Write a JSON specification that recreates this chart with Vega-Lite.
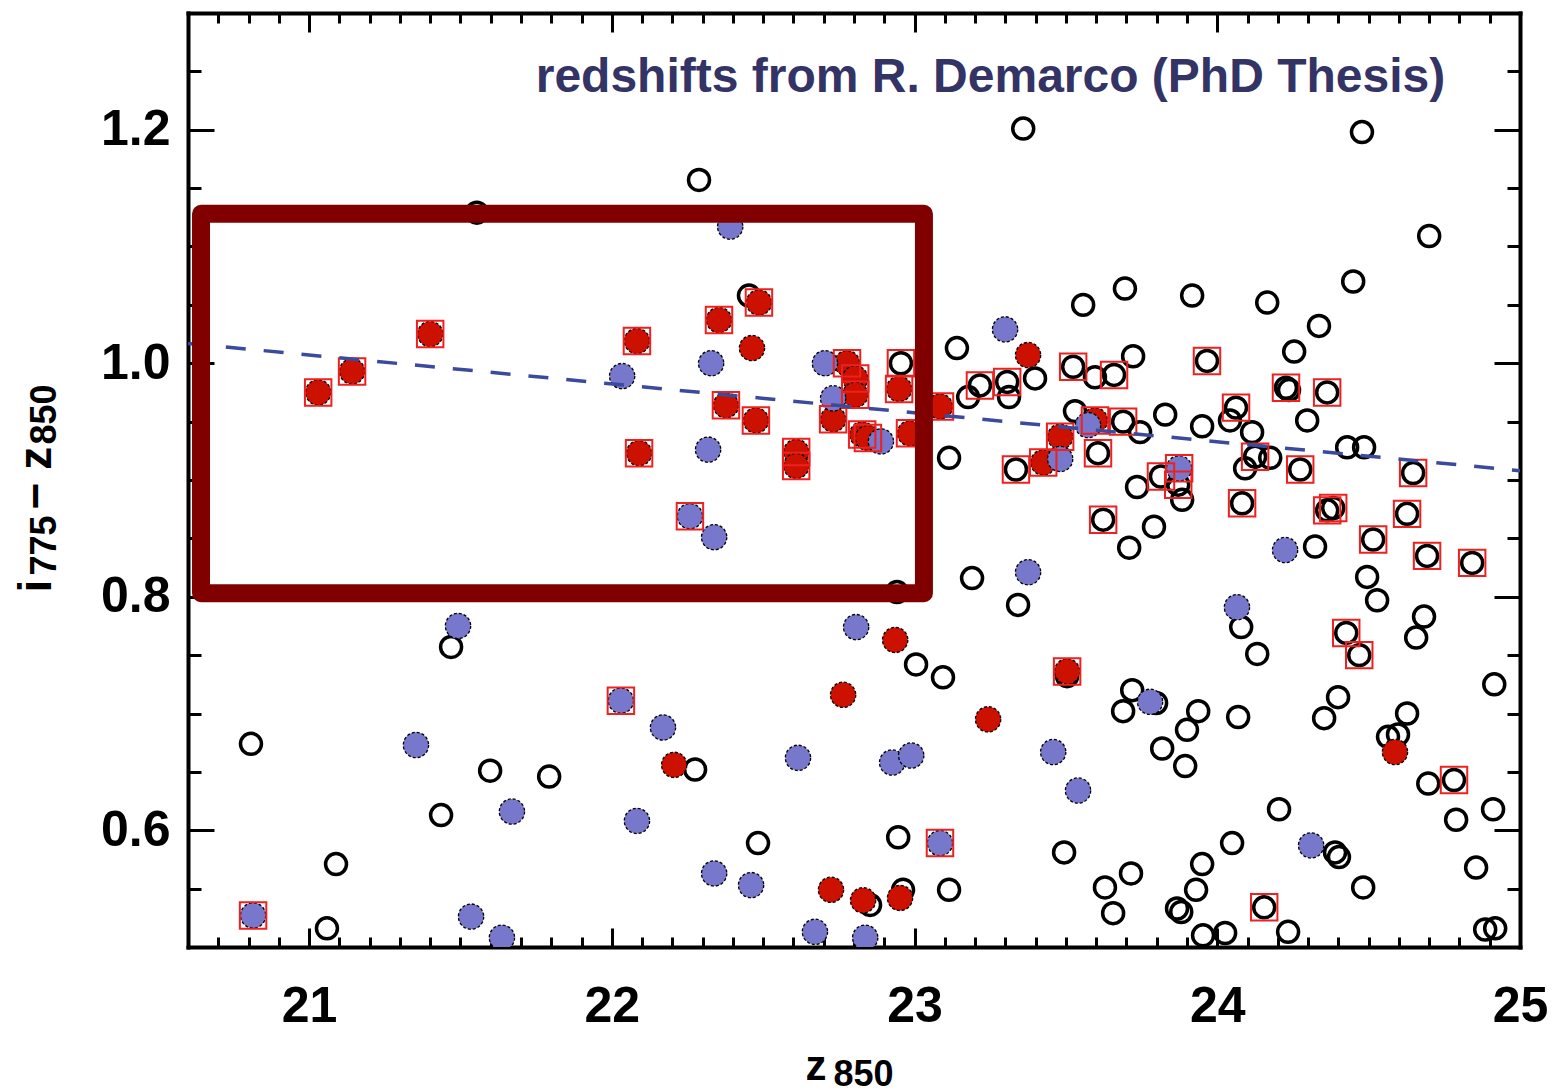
{
  "$schema": "https://vega.github.io/schema/vega-lite/v6.json",
  "width": 1332,
  "height": 934,
  "autosize": {"type": "none"},
  "padding": {"left": 188, "top": 13, "right": 32, "bottom": 145},
  "background": "white",
  "config": {
    "view": {"stroke": null},
    "axis": {
      "grid": false,
      "tickColor": "black",
      "tickWidth": 3,
      "domainColor": "black",
      "domainWidth": 4,
      "domainCap": "square",
      "labelColor": "black",
      "labelFont": "Liberation Sans",
      "labelFontWeight": "bold",
      "labelFontSize": 50,
      "labelFlush": false,
      "labelOverlap": false,
      "titleColor": "black",
      "titleFont": "Liberation Sans",
      "titleFontWeight": "bold",
      "zindex": 2
    }
  },
  "datasets": {
    "pts": [
      {"z": 21.554, "c": 1.129, "t": "open", "sq": 0},
      {"z": 22.288, "c": 1.157, "t": "open", "sq": 0},
      {"z": 23.359, "c": 1.201, "t": "open", "sq": 0},
      {"z": 24.478, "c": 1.198, "t": "open", "sq": 0},
      {"z": 22.453, "c": 1.058, "t": "open", "sq": 0},
      {"z": 23.14, "c": 1.013, "t": "open", "sq": 0},
      {"z": 23.398, "c": 0.987, "t": "open", "sq": 0},
      {"z": 23.177, "c": 0.971, "t": "open", "sq": 0},
      {"z": 23.312, "c": 0.971, "t": "open", "sq": 0},
      {"z": 23.114, "c": 0.919, "t": "open", "sq": 0},
      {"z": 23.53, "c": 0.959, "t": "open", "sq": 0},
      {"z": 23.557, "c": 1.05, "t": "open", "sq": 0},
      {"z": 23.695, "c": 1.064, "t": "open", "sq": 0},
      {"z": 23.917, "c": 1.058, "t": "open", "sq": 0},
      {"z": 24.165, "c": 1.052, "t": "open", "sq": 0},
      {"z": 24.336, "c": 1.032, "t": "open", "sq": 0},
      {"z": 24.254, "c": 1.01, "t": "open", "sq": 0},
      {"z": 23.722, "c": 1.006, "t": "open", "sq": 0},
      {"z": 24.449, "c": 1.07, "t": "open", "sq": 0},
      {"z": 24.7, "c": 1.109, "t": "open", "sq": 0},
      {"z": 23.596, "c": 0.988, "t": "open", "sq": 0},
      {"z": 24.237, "c": 0.977, "t": "open", "sq": 0},
      {"z": 23.828, "c": 0.956, "t": "open", "sq": 0},
      {"z": 24.042, "c": 0.951, "t": "open", "sq": 0},
      {"z": 23.745, "c": 0.941, "t": "open", "sq": 0},
      {"z": 23.95, "c": 0.946, "t": "open", "sq": 0},
      {"z": 24.115, "c": 0.941, "t": "open", "sq": 0},
      {"z": 24.297, "c": 0.951, "t": "open", "sq": 0},
      {"z": 24.429, "c": 0.928, "t": "open", "sq": 0},
      {"z": 24.485, "c": 0.928, "t": "open", "sq": 0},
      {"z": 24.175, "c": 0.919, "t": "open", "sq": 0},
      {"z": 24.092, "c": 0.91, "t": "open", "sq": 0},
      {"z": 23.735, "c": 0.894, "t": "open", "sq": 0},
      {"z": 23.884, "c": 0.883, "t": "open", "sq": 0},
      {"z": 23.791, "c": 0.86, "t": "open", "sq": 0},
      {"z": 23.709, "c": 0.842, "t": "open", "sq": 0},
      {"z": 24.323, "c": 0.843, "t": "open", "sq": 0},
      {"z": 24.495, "c": 0.817, "t": "open", "sq": 0},
      {"z": 24.528, "c": 0.797, "t": "open", "sq": 0},
      {"z": 24.683, "c": 0.783, "t": "open", "sq": 0},
      {"z": 24.657, "c": 0.765, "t": "open", "sq": 0},
      {"z": 24.079, "c": 0.774, "t": "open", "sq": 0},
      {"z": 24.132, "c": 0.751, "t": "open", "sq": 0},
      {"z": 24.915, "c": 0.725, "t": "open", "sq": 0},
      {"z": 23.719, "c": 0.72, "t": "open", "sq": 0},
      {"z": 23.689, "c": 0.702, "t": "open", "sq": 0},
      {"z": 23.937, "c": 0.702, "t": "open", "sq": 0},
      {"z": 23.9, "c": 0.686, "t": "open", "sq": 0},
      {"z": 24.069, "c": 0.697, "t": "open", "sq": 0},
      {"z": 24.399, "c": 0.714, "t": "open", "sq": 0},
      {"z": 24.353, "c": 0.696, "t": "open", "sq": 0},
      {"z": 24.627, "c": 0.7, "t": "open", "sq": 0},
      {"z": 24.564, "c": 0.68, "t": "open", "sq": 0},
      {"z": 24.597, "c": 0.682, "t": "open", "sq": 0},
      {"z": 23.818, "c": 0.67, "t": "open", "sq": 0},
      {"z": 23.894, "c": 0.655, "t": "open", "sq": 0},
      {"z": 24.697, "c": 0.64, "t": "open", "sq": 0},
      {"z": 24.789, "c": 0.609, "t": "open", "sq": 0},
      {"z": 24.911, "c": 0.618, "t": "open", "sq": 0},
      {"z": 24.204, "c": 0.618, "t": "open", "sq": 0},
      {"z": 24.049, "c": 0.589, "t": "open", "sq": 0},
      {"z": 24.389, "c": 0.581, "t": "open", "sq": 0},
      {"z": 24.402, "c": 0.577, "t": "open", "sq": 0},
      {"z": 24.855, "c": 0.568, "t": "open", "sq": 0},
      {"z": 24.482, "c": 0.551, "t": "open", "sq": 0},
      {"z": 23.715, "c": 0.563, "t": "open", "sq": 0},
      {"z": 23.629, "c": 0.551, "t": "open", "sq": 0},
      {"z": 23.656, "c": 0.529, "t": "open", "sq": 0},
      {"z": 23.95, "c": 0.571, "t": "open", "sq": 0},
      {"z": 23.93, "c": 0.549, "t": "open", "sq": 0},
      {"z": 23.867, "c": 0.533, "t": "open", "sq": 0},
      {"z": 23.881, "c": 0.53, "t": "open", "sq": 0},
      {"z": 24.234, "c": 0.513, "t": "open", "sq": 0},
      {"z": 23.953, "c": 0.51, "t": "open", "sq": 0},
      {"z": 24.026, "c": 0.512, "t": "open", "sq": 0},
      {"z": 24.885, "c": 0.515, "t": "open", "sq": 0},
      {"z": 24.918, "c": 0.516, "t": "open", "sq": 0},
      {"z": 23.494, "c": 0.581, "t": "open", "sq": 0},
      {"z": 22.942, "c": 0.804, "t": "open", "sq": 0},
      {"z": 23.19, "c": 0.816, "t": "open", "sq": 0},
      {"z": 23.342, "c": 0.793, "t": "open", "sq": 0},
      {"z": 23.005, "c": 0.742, "t": "open", "sq": 0},
      {"z": 23.094, "c": 0.731, "t": "open", "sq": 0},
      {"z": 22.275, "c": 0.652, "t": "open", "sq": 0},
      {"z": 22.483, "c": 0.589, "t": "open", "sq": 0},
      {"z": 22.946, "c": 0.594, "t": "open", "sq": 0},
      {"z": 22.853, "c": 0.536, "t": "open", "sq": 0},
      {"z": 22.962, "c": 0.549, "t": "open", "sq": 0},
      {"z": 23.114, "c": 0.549, "t": "open", "sq": 0},
      {"z": 21.469, "c": 0.757, "t": "open", "sq": 0},
      {"z": 20.808, "c": 0.674, "t": "open", "sq": 0},
      {"z": 21.598, "c": 0.651, "t": "open", "sq": 0},
      {"z": 21.793, "c": 0.646, "t": "open", "sq": 0},
      {"z": 21.436, "c": 0.613, "t": "open", "sq": 0},
      {"z": 21.089, "c": 0.571, "t": "open", "sq": 0},
      {"z": 21.059, "c": 0.516, "t": "open", "sq": 0},
      {"z": 23.504, "c": 0.732, "t": "open", "sq": 0},
      {"z": 23.798, "c": 0.709, "t": "open", "sq": 0},
      {"z": 22.955, "c": 1.0, "t": "open", "sq": 1},
      {"z": 23.216, "c": 0.981, "t": "open", "sq": 1},
      {"z": 23.306, "c": 0.984, "t": "open", "sq": 1},
      {"z": 23.524, "c": 0.997, "t": "open", "sq": 1},
      {"z": 23.659, "c": 0.99, "t": "open", "sq": 1},
      {"z": 23.966, "c": 1.002, "t": "open", "sq": 1},
      {"z": 24.227, "c": 0.979, "t": "open", "sq": 1},
      {"z": 24.363, "c": 0.975, "t": "open", "sq": 1},
      {"z": 24.062, "c": 0.962, "t": "open", "sq": 1},
      {"z": 23.689, "c": 0.95, "t": "open", "sq": 1},
      {"z": 23.606, "c": 0.923, "t": "open", "sq": 1},
      {"z": 23.335, "c": 0.909, "t": "open", "sq": 1},
      {"z": 24.125, "c": 0.92, "t": "open", "sq": 1},
      {"z": 24.274, "c": 0.909, "t": "open", "sq": 1},
      {"z": 24.647, "c": 0.906, "t": "open", "sq": 1},
      {"z": 23.814, "c": 0.903, "t": "open", "sq": 1},
      {"z": 23.871, "c": 0.896, "t": "open", "sq": 1},
      {"z": 24.082, "c": 0.88, "t": "open", "sq": 1},
      {"z": 23.623, "c": 0.866, "t": "open", "sq": 1},
      {"z": 24.363, "c": 0.874, "t": "open", "sq": 1},
      {"z": 24.383, "c": 0.876, "t": "open", "sq": 1},
      {"z": 24.627, "c": 0.871, "t": "open", "sq": 1},
      {"z": 24.515, "c": 0.849, "t": "open", "sq": 1},
      {"z": 24.693, "c": 0.835, "t": "open", "sq": 1},
      {"z": 24.842, "c": 0.829, "t": "open", "sq": 1},
      {"z": 24.426, "c": 0.769, "t": "open", "sq": 1},
      {"z": 24.469, "c": 0.75, "t": "open", "sq": 1},
      {"z": 24.782, "c": 0.643, "t": "open", "sq": 1},
      {"z": 24.155, "c": 0.534, "t": "open", "sq": 1},
      {"z": 21.03, "c": 0.975, "t": "red", "sq": 1},
      {"z": 21.142, "c": 0.993, "t": "red", "sq": 1},
      {"z": 21.4, "c": 1.025, "t": "red", "sq": 1},
      {"z": 22.083, "c": 1.019, "t": "red", "sq": 1},
      {"z": 22.09, "c": 0.923, "t": "red", "sq": 1},
      {"z": 22.486, "c": 1.052, "t": "red", "sq": 1},
      {"z": 22.354, "c": 1.037, "t": "red", "sq": 1},
      {"z": 22.377, "c": 0.964, "t": "red", "sq": 1},
      {"z": 22.476, "c": 0.951, "t": "red", "sq": 1},
      {"z": 22.609, "c": 0.924, "t": "red", "sq": 1},
      {"z": 22.609, "c": 0.912, "t": "red", "sq": 1},
      {"z": 22.777, "c": 1.0, "t": "red", "sq": 1},
      {"z": 22.804, "c": 0.987, "t": "red", "sq": 1},
      {"z": 22.804, "c": 0.973, "t": "red", "sq": 1},
      {"z": 22.731, "c": 0.952, "t": "red", "sq": 1},
      {"z": 22.827, "c": 0.939, "t": "red", "sq": 1},
      {"z": 22.846, "c": 0.936, "t": "red", "sq": 1},
      {"z": 22.949, "c": 0.978, "t": "red", "sq": 1},
      {"z": 22.985, "c": 0.94, "t": "red", "sq": 1},
      {"z": 23.084, "c": 0.963, "t": "red", "sq": 1},
      {"z": 23.481, "c": 0.937, "t": "red", "sq": 1},
      {"z": 23.425, "c": 0.915, "t": "red", "sq": 1},
      {"z": 23.596, "c": 0.951, "t": "red", "sq": 1},
      {"z": 23.504, "c": 0.736, "t": "red", "sq": 1},
      {"z": 22.463, "c": 1.013, "t": "red", "sq": 0},
      {"z": 23.375, "c": 1.007, "t": "red", "sq": 0},
      {"z": 22.936, "c": 0.763, "t": "red", "sq": 0},
      {"z": 22.764, "c": 0.716, "t": "red", "sq": 0},
      {"z": 23.243, "c": 0.695, "t": "red", "sq": 0},
      {"z": 22.206, "c": 0.656, "t": "red", "sq": 0},
      {"z": 22.724, "c": 0.549, "t": "red", "sq": 0},
      {"z": 22.83, "c": 0.54, "t": "red", "sq": 0},
      {"z": 22.952, "c": 0.542, "t": "red", "sq": 0},
      {"z": 24.587, "c": 0.667, "t": "red", "sq": 0},
      {"z": 22.034, "c": 0.989, "t": "blue", "sq": 0},
      {"z": 22.391, "c": 1.117, "t": "blue", "sq": 0},
      {"z": 22.328, "c": 1.0, "t": "blue", "sq": 0},
      {"z": 22.318, "c": 0.926, "t": "blue", "sq": 0},
      {"z": 22.704, "c": 1.0, "t": "blue", "sq": 0},
      {"z": 22.731, "c": 0.97, "t": "blue", "sq": 0},
      {"z": 22.889, "c": 0.933, "t": "blue", "sq": 0},
      {"z": 23.299, "c": 1.029, "t": "blue", "sq": 0},
      {"z": 23.481, "c": 0.918, "t": "blue", "sq": 0},
      {"z": 23.573, "c": 0.947, "t": "blue", "sq": 0},
      {"z": 22.338, "c": 0.851, "t": "blue", "sq": 0},
      {"z": 21.492, "c": 0.775, "t": "blue", "sq": 0},
      {"z": 21.353, "c": 0.673, "t": "blue", "sq": 0},
      {"z": 21.67, "c": 0.616, "t": "blue", "sq": 0},
      {"z": 22.083, "c": 0.608, "t": "blue", "sq": 0},
      {"z": 21.535, "c": 0.526, "t": "blue", "sq": 0},
      {"z": 21.637, "c": 0.508, "t": "blue", "sq": 0},
      {"z": 22.169, "c": 0.688, "t": "blue", "sq": 0},
      {"z": 22.615, "c": 0.662, "t": "blue", "sq": 0},
      {"z": 22.926, "c": 0.658, "t": "blue", "sq": 0},
      {"z": 22.989, "c": 0.664, "t": "blue", "sq": 0},
      {"z": 22.807, "c": 0.774, "t": "blue", "sq": 0},
      {"z": 23.375, "c": 0.821, "t": "blue", "sq": 0},
      {"z": 23.458, "c": 0.667, "t": "blue", "sq": 0},
      {"z": 23.54, "c": 0.634, "t": "blue", "sq": 0},
      {"z": 22.338, "c": 0.563, "t": "blue", "sq": 0},
      {"z": 22.46, "c": 0.553, "t": "blue", "sq": 0},
      {"z": 22.671, "c": 0.513, "t": "blue", "sq": 0},
      {"z": 22.837, "c": 0.508, "t": "blue", "sq": 0},
      {"z": 24.224, "c": 0.84, "t": "blue", "sq": 0},
      {"z": 24.065, "c": 0.791, "t": "blue", "sq": 0},
      {"z": 23.778, "c": 0.71, "t": "blue", "sq": 0},
      {"z": 24.31, "c": 0.587, "t": "blue", "sq": 0},
      {"z": 22.258, "c": 0.869, "t": "blue", "sq": 1},
      {"z": 22.03, "c": 0.711, "t": "blue", "sq": 1},
      {"z": 20.815, "c": 0.527, "t": "blue", "sq": 1},
      {"z": 23.084, "c": 0.589, "t": "blue", "sq": 1},
      {"z": 23.874, "c": 0.91, "t": "blue", "sq": 1}
    ],
    "fit": [
      {"z": 20.6, "c": 1.017},
      {"z": 25.0, "c": 0.908}
    ],
    "box": [
      {"z1": 20.643, "z2": 23.031, "c1": 1.128, "c2": 0.803}
    ],
    "note": [
      {"z": 24.753, "c": 1.232, "label": "redshifts from R. Demarco (PhD Thesis)"}
    ]
  },
  "layer": [
    {
      "data": {"name": "pts"},
      "transform": [{"filter": "datum.t == 'open'"}],
      "mark": {"type": "point", "shape": "circle", "filled": false, "stroke": "black", "strokeWidth": 3.5, "size": 440, "opacity": 1, "clip": true},
      "encoding": {
        "x": {"field": "z", "type": "quantitative", "scale": {"domain": [20.6, 25.0], "nice": false, "zero": false},
          "axis": {"orient": "bottom", "values": [21, 22, 23, 24, 25], "format": "d", "ticks": false, "domain": true, "labelPadding": 34,
            "title": "z", "titleFontSize": 42, "titleX": 617, "titleY": 132, "titleAlign": "left", "titleBaseline": "alphabetic", "titleAngle": 0}},
        "y": {"field": "c", "type": "quantitative", "scale": {"domain": [0.5, 1.3], "nice": false, "zero": false},
          "axis": {"orient": "left", "values": [0.6, 0.8, 1.0, 1.2], "format": ".1f", "ticks": false, "domain": true, "labelPadding": 18,
            "title": "i", "titleFontSize": 46, "titleX": -138, "titleY": 579, "titleAlign": "left", "titleBaseline": "alphabetic", "titleAngle": 270}}
      }
    },
    {
      "data": {"name": "pts"},
      "transform": [{"filter": "datum.t != 'open'"}],
      "mark": {"type": "point", "shape": "circle", "filled": true, "stroke": "black", "strokeWidth": 1.3, "strokeDash": [3, 2], "size": 640, "opacity": 1, "clip": true},
      "encoding": {
        "x": {"field": "z", "type": "quantitative", "scale": {"domain": [20.6, 25.0], "nice": false, "zero": false},
          "axis": {"orient": "bottom", "values": [21, 22, 23, 24, 25], "labels": false, "domain": false, "tickSize": -19,
            "title": "850", "titleFontSize": 36, "titleX": 645, "titleY": 138, "titleAlign": "left", "titleBaseline": "alphabetic", "titleAngle": 0}},
        "y": {"field": "c", "type": "quantitative", "scale": {"domain": [0.5, 1.3], "nice": false, "zero": false},
          "axis": {"orient": "left", "values": [0.6, 0.8, 1.0, 1.2], "labels": false, "domain": false, "tickSize": -26,
            "title": "775", "titleFontSize": 36, "titleX": -133, "titleY": 562, "titleAlign": "left", "titleBaseline": "alphabetic", "titleAngle": 270}},
        "fill": {"field": "t", "type": "nominal", "scale": {"domain": ["red", "blue"], "range": ["#cc1100", "#7777cc"]}, "legend": null}
      }
    },
    {
      "data": {"name": "pts"},
      "transform": [{"filter": "datum.sq == 1"}],
      "mark": {"type": "point", "shape": "square", "filled": false, "stroke": "#ee2020", "strokeWidth": 2, "size": 700, "opacity": 1, "clip": true},
      "encoding": {
        "x": {"field": "z", "type": "quantitative", "scale": {"domain": [20.6, 25.0], "nice": false, "zero": false},
          "axis": {"orient": "bottom", "values": [20.7, 20.8, 20.9, 21.1, 21.2, 21.3, 21.4, 21.5, 21.6, 21.7, 21.8, 21.9, 22.1, 22.2, 22.3, 22.4, 22.5, 22.6, 22.7, 22.8, 22.9, 23.1, 23.2, 23.3, 23.4, 23.5, 23.6, 23.7, 23.8, 23.9, 24.1, 24.2, 24.3, 24.4, 24.5, 24.6, 24.7, 24.8, 24.9],
            "labels": false, "domain": false, "tickSize": -10, "title": null}},
        "y": {"field": "c", "type": "quantitative", "scale": {"domain": [0.5, 1.3], "nice": false, "zero": false},
          "axis": {"orient": "left", "values": [0.55, 0.65, 0.7, 0.75, 0.85, 0.9, 0.95, 1.05, 1.1, 1.15, 1.25], "labels": false, "domain": false, "tickSize": -13,
            "title": "− z", "titleFontSize": 46, "titleX": -138, "titleY": 496, "titleAlign": "left", "titleBaseline": "alphabetic", "titleAngle": 270}}
      }
    },
    {
      "data": {"name": "fit"},
      "mark": {"type": "line", "color": "#3a4a9c", "strokeWidth": 3.5, "strokeDash": [20, 18], "clip": true},
      "encoding": {
        "x": {"field": "z", "type": "quantitative", "scale": {"domain": [20.6, 25.0], "nice": false, "zero": false},
          "axis": {"orient": "top", "values": [21, 22, 23, 24, 25], "labels": false, "domain": true, "tickSize": -19, "title": null}},
        "y": {"field": "c", "type": "quantitative", "scale": {"domain": [0.5, 1.3], "nice": false, "zero": false},
          "axis": {"orient": "right", "values": [0.6, 0.8, 1.0, 1.2], "labels": false, "domain": true, "tickSize": -26, "title": null}}
      }
    },
    {
      "data": {"name": "box"},
      "mark": {"type": "rect", "fill": "transparent", "stroke": "#800000", "strokeWidth": 18, "strokeJoin": "round"},
      "encoding": {
        "x": {"field": "z1", "type": "quantitative", "scale": {"domain": [20.6, 25.0], "nice": false, "zero": false},
          "axis": {"orient": "top", "values": [20.7, 20.8, 20.9, 21.1, 21.2, 21.3, 21.4, 21.5, 21.6, 21.7, 21.8, 21.9, 22.1, 22.2, 22.3, 22.4, 22.5, 22.6, 22.7, 22.8, 22.9, 23.1, 23.2, 23.3, 23.4, 23.5, 23.6, 23.7, 23.8, 23.9, 24.1, 24.2, 24.3, 24.4, 24.5, 24.6, 24.7, 24.8, 24.9],
            "labels": false, "domain": false, "tickSize": -10, "title": null}},
        "x2": {"field": "z2"},
        "y": {"field": "c1", "type": "quantitative", "scale": {"domain": [0.5, 1.3], "nice": false, "zero": false},
          "axis": {"orient": "left", "ticks": false, "labels": false, "domain": false,
            "title": "850", "titleFontSize": 36, "titleX": -133, "titleY": 431, "titleAlign": "left", "titleBaseline": "alphabetic", "titleAngle": 270}},
        "y2": {"field": "c2"}
      }
    },
    {
      "data": {"name": "note"},
      "mark": {"type": "text", "align": "right", "baseline": "alphabetic", "font": "Liberation Sans", "fontWeight": "bold", "fontSize": 48, "color": "#333366"},
      "encoding": {
        "x": {"field": "z", "type": "quantitative", "scale": {"domain": [20.6, 25.0], "nice": false, "zero": false}, "axis": null},
        "y": {"field": "c", "type": "quantitative", "scale": {"domain": [0.5, 1.3], "nice": false, "zero": false},
          "axis": {"orient": "right", "values": [0.55, 0.65, 0.7, 0.75, 0.85, 0.9, 0.95, 1.05, 1.1, 1.15, 1.25], "labels": false, "domain": false, "tickSize": -13, "title": null}},
        "text": {"field": "label", "type": "nominal"}
      }
    }
  ],
  "resolve": {"axis": {"x": "independent", "y": "independent"}}
}
